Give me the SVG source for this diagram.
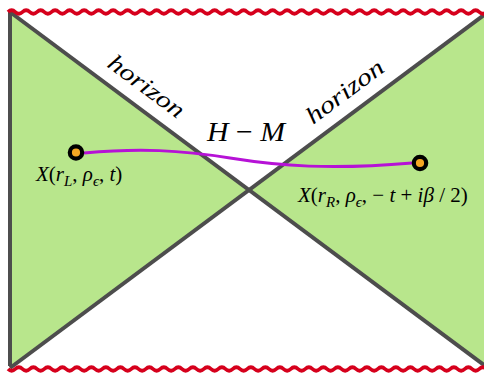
<svg xmlns="http://www.w3.org/2000/svg" width="484" height="375" viewBox="0 0 484 375">
<style>
.region{fill:#b8e68c;stroke:none}
.edge{stroke:#4d4d4d;stroke-width:4;fill:none;stroke-linecap:butt}
.sing{stroke:#d6001c;stroke-width:3.8;fill:none}
.dot{fill:#f5a623;stroke:#000;stroke-width:4.2}
.geo{stroke:#b612d6;stroke-width:3;fill:none}
.t{font-family:"Liberation Serif","DejaVu Serif",serif;fill:#000}
.i{font-style:italic}
</style>
<g id="regions">
<polygon class="region" points="10,12 249,190 10,368"/>
<polygon class="region" points="488,12 249,190 488,368"/>
</g>
<g id="edges">
<line class="edge" x1="10" y1="10" x2="10" y2="366"/>
<line class="edge" x1="10" y1="12" x2="488" y2="368"/>
<line class="edge" x1="488" y1="12" x2="10" y2="368"/>
</g>
<g id="singularities">
<path class="sing" d="M8,12 q3.625,-3.5 7.25,0 t7.25,0 t7.25,0 t7.25,0 t7.25,0 t7.25,0 t7.25,0 t7.25,0 t7.25,0 t7.25,0 t7.25,0 t7.25,0 t7.25,0 t7.25,0 t7.25,0 t7.25,0 t7.25,0 t7.25,0 t7.25,0 t7.25,0 t7.25,0 t7.25,0 t7.25,0 t7.25,0 t7.25,0 t7.25,0 t7.25,0 t7.25,0 t7.25,0 t7.25,0 t7.25,0 t7.25,0 t7.25,0 t7.25,0 t7.25,0 t7.25,0 t7.25,0 t7.25,0 t7.25,0 t7.25,0 t7.25,0 t7.25,0 t7.25,0 t7.25,0 t7.25,0 t7.25,0 t7.25,0 t7.25,0 t7.25,0 t7.25,0 t7.25,0 t7.25,0 t7.25,0 t7.25,0 t7.25,0 t7.25,0 t7.25,0 t7.25,0 t7.25,0 t7.25,0 t7.25,0 t7.25,0 t7.25,0 t7.25,0 t7.25,0 t7.25,0"/>
<path class="sing" d="M8,369 q3.625,3.5 7.25,0 t7.25,0 t7.25,0 t7.25,0 t7.25,0 t7.25,0 t7.25,0 t7.25,0 t7.25,0 t7.25,0 t7.25,0 t7.25,0 t7.25,0 t7.25,0 t7.25,0 t7.25,0 t7.25,0 t7.25,0 t7.25,0 t7.25,0 t7.25,0 t7.25,0 t7.25,0 t7.25,0 t7.25,0 t7.25,0 t7.25,0 t7.25,0 t7.25,0 t7.25,0 t7.25,0 t7.25,0 t7.25,0 t7.25,0 t7.25,0 t7.25,0 t7.25,0 t7.25,0 t7.25,0 t7.25,0 t7.25,0 t7.25,0 t7.25,0 t7.25,0 t7.25,0 t7.25,0 t7.25,0 t7.25,0 t7.25,0 t7.25,0 t7.25,0 t7.25,0 t7.25,0 t7.25,0 t7.25,0 t7.25,0 t7.25,0 t7.25,0 t7.25,0 t7.25,0 t7.25,0 t7.25,0 t7.25,0 t7.25,0 t7.25,0 t7.25,0"/>
</g>
<g id="labels">
<text class="t i" font-size="24" transform="translate(106,66) rotate(36.7)" textLength="89" lengthAdjust="spacingAndGlyphs">horizon</text>
<text class="t i" font-size="24" transform="translate(313,125) rotate(-36.7)" textLength="91" lengthAdjust="spacingAndGlyphs">horizon</text>
<text class="t" font-size="28" x="207" y="141" textLength="78" lengthAdjust="spacingAndGlyphs"><tspan class="i">H</tspan> − <tspan class="i">M</tspan></text>
</g>
<g id="connectors">
<path class="geo" d="M84,153 C140,148 180,150 230,158 S330,170 412,163"/>
</g>
<g id="nodeL">
<circle class="dot" cx="76" cy="152.5" r="6.2"/>
<text class="t" font-size="21" x="36" y="181"><tspan class="i">X</tspan>(<tspan class="i">r</tspan><tspan class="i" font-size="15" dy="5">L</tspan><tspan dy="-5">, </tspan><tspan class="i">ρ</tspan><tspan class="i" font-size="15" dy="5">ϵ</tspan><tspan dy="-5">, </tspan><tspan class="i">t</tspan>)</text>
</g>
<g id="nodeR">
<circle class="dot" cx="420" cy="163" r="6.2"/>
<text class="t" font-size="21" x="298" y="202"><tspan class="i">X</tspan>(<tspan class="i">r</tspan><tspan class="i" font-size="15" dy="5">R</tspan><tspan dy="-5">, </tspan><tspan class="i">ρ</tspan><tspan class="i" font-size="15" dy="5">ϵ</tspan><tspan dy="-5">, − </tspan><tspan class="i">t</tspan> + <tspan class="i">iβ</tspan> / 2)</text>
</g>
</svg>
